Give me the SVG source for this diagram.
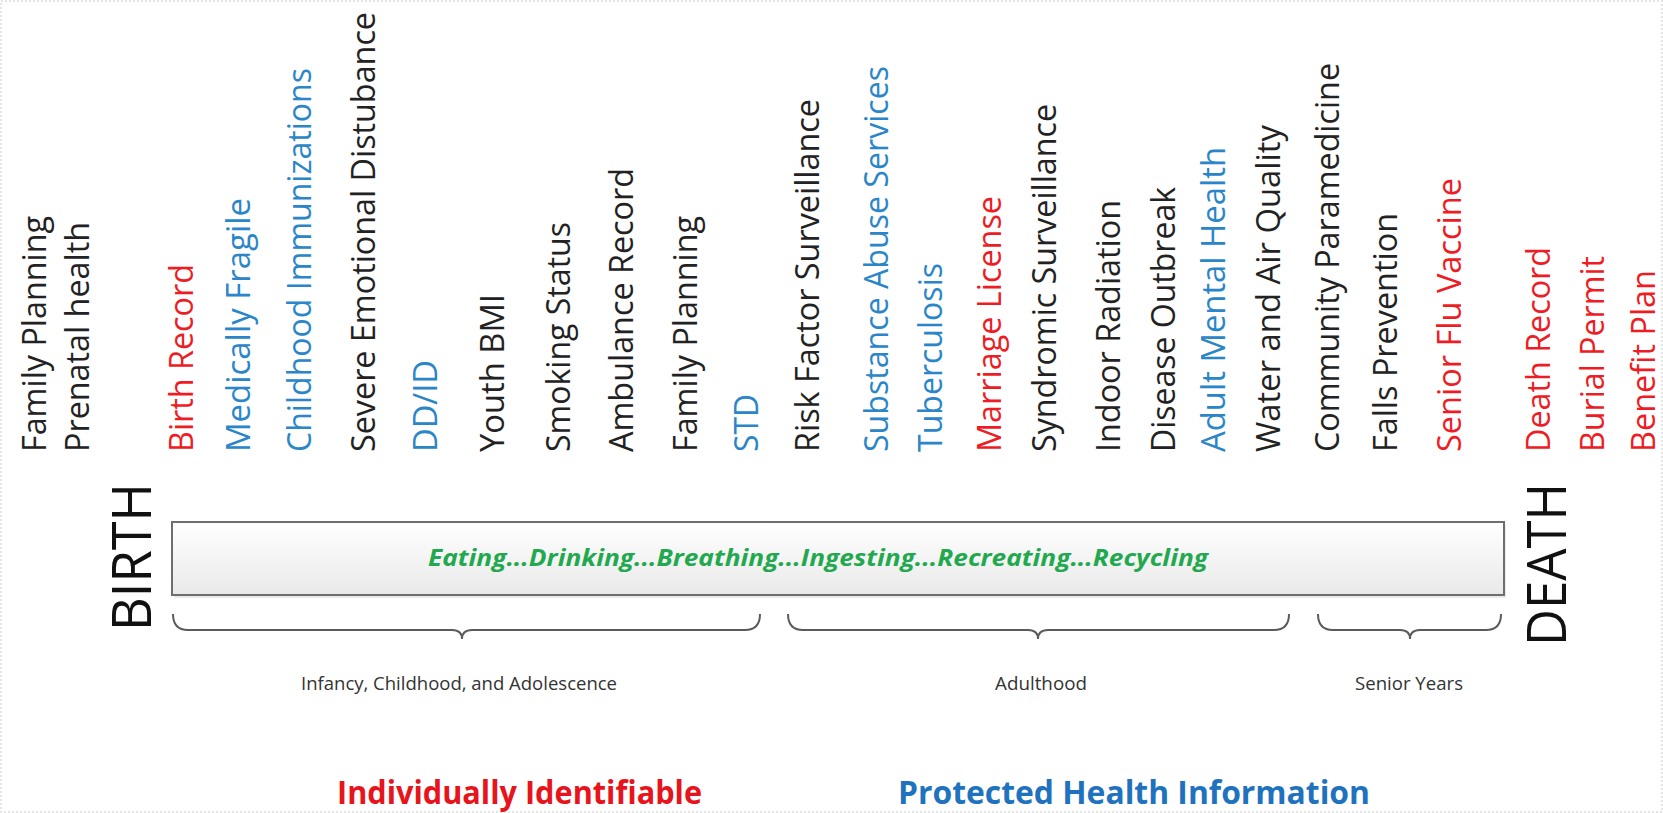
<svg xmlns="http://www.w3.org/2000/svg" width="1663" height="813" viewBox="0 0 1663 813">
<style>
.lbl{font-family:"Open Sans","Liberation Sans",sans-serif;font-size:32px;}
.k{fill:#222222;}
.r{fill:#ee1c24;}
.b{fill:#2a86c8;}
.big{font-family:"Open Sans","Liberation Sans",sans-serif;font-size:54px;fill:#111111;}
.phase{font-family:"Open Sans","Liberation Sans",sans-serif;font-size:18px;fill:#333333;text-anchor:middle;}
.brace{fill:none;stroke:#5a5a5a;stroke-width:2;}
.foot{font-family:"Open Sans","Liberation Sans",sans-serif;font-size:32px;font-weight:bold;}
</style>
<defs>
<linearGradient id="boxg" x1="0" y1="0" x2="0" y2="1">
<stop offset="0" stop-color="#ffffff"/>
<stop offset="1" stop-color="#e9e9e9"/>
</linearGradient>
</defs>
<rect x="1" y="1" width="1661" height="811" fill="#ffffff" stroke="#dcdcdc" stroke-width="1.5" stroke-dasharray="2,2"/>

<g id="labels">
<g id="l1"><text class="lbl k" transform="translate(46,452) rotate(-90)" textLength="236" lengthAdjust="spacingAndGlyphs">Family Planning</text></g>
<g id="l2"><text class="lbl k" transform="translate(89,452) rotate(-90)" textLength="230" lengthAdjust="spacingAndGlyphs">Prenatal health</text></g>
<g id="l3"><text class="lbl r" transform="translate(193,452) rotate(-90)" textLength="188" lengthAdjust="spacingAndGlyphs">Birth Record</text></g>
<g id="l4"><text class="lbl b" transform="translate(250,452) rotate(-90)" textLength="254" lengthAdjust="spacingAndGlyphs">Medically Fragile</text></g>
<g id="l5"><text class="lbl b" transform="translate(311,452) rotate(-90)" textLength="384" lengthAdjust="spacingAndGlyphs">Childhood Immunizations</text></g>
<g id="l6"><text class="lbl k" transform="translate(375,452) rotate(-90)" textLength="440" lengthAdjust="spacingAndGlyphs">Severe Emotional Distubance</text></g>
<g id="l7"><text class="lbl b" transform="translate(437,452) rotate(-90)" textLength="92" lengthAdjust="spacingAndGlyphs">DD/ID</text></g>
<g id="l8"><text class="lbl k" transform="translate(504,452) rotate(-90)" textLength="158" lengthAdjust="spacingAndGlyphs">Youth BMI</text></g>
<g id="l9"><text class="lbl k" transform="translate(570,452) rotate(-90)" textLength="230" lengthAdjust="spacingAndGlyphs">Smoking Status</text></g>
<g id="l10"><text class="lbl k" transform="translate(633,452) rotate(-90)" textLength="284" lengthAdjust="spacingAndGlyphs">Ambulance Record</text></g>
<g id="l11"><text class="lbl k" transform="translate(697,452) rotate(-90)" textLength="236" lengthAdjust="spacingAndGlyphs">Family Planning</text></g>
<g id="l12"><text class="lbl b" transform="translate(758,452) rotate(-90)" textLength="58" lengthAdjust="spacingAndGlyphs">STD</text></g>
<g id="l13"><text class="lbl k" transform="translate(819,452) rotate(-90)" textLength="353" lengthAdjust="spacingAndGlyphs">Risk Factor Surveillance</text></g>
<g id="l14"><text class="lbl b" transform="translate(888,452) rotate(-90)" textLength="386" lengthAdjust="spacingAndGlyphs">Substance Abuse Services</text></g>
<g id="l15"><text class="lbl b" transform="translate(942,452) rotate(-90)" textLength="189" lengthAdjust="spacingAndGlyphs">Tuberculosis</text></g>
<g id="l16"><text class="lbl r" transform="translate(1001,452) rotate(-90)" textLength="256" lengthAdjust="spacingAndGlyphs">Marriage License</text></g>
<g id="l17"><text class="lbl k" transform="translate(1056,452) rotate(-90)" textLength="348" lengthAdjust="spacingAndGlyphs">Syndromic Surveillance</text></g>
<g id="l18"><text class="lbl k" transform="translate(1120,452) rotate(-90)" textLength="252" lengthAdjust="spacingAndGlyphs">Indoor Radiation</text></g>
<g id="l19"><text class="lbl k" transform="translate(1175,452) rotate(-90)" textLength="265" lengthAdjust="spacingAndGlyphs">Disease Outbreak</text></g>
<g id="l20"><text class="lbl b" transform="translate(1225,452) rotate(-90)" textLength="305" lengthAdjust="spacingAndGlyphs">Adult Mental Health</text></g>
<g id="l21"><text class="lbl k" transform="translate(1280,452) rotate(-90)" textLength="327" lengthAdjust="spacingAndGlyphs">Water and Air Quality</text></g>
<g id="l22"><text class="lbl k" transform="translate(1339,452) rotate(-90)" textLength="389" lengthAdjust="spacingAndGlyphs">Community Paramedicine</text></g>
<g id="l23"><text class="lbl k" transform="translate(1397,452) rotate(-90)" textLength="239" lengthAdjust="spacingAndGlyphs">Falls Prevention</text></g>
<g id="l24"><text class="lbl r" transform="translate(1461,452) rotate(-90)" textLength="274" lengthAdjust="spacingAndGlyphs">Senior Flu Vaccine</text></g>
<g id="l25"><text class="lbl r" transform="translate(1550,452) rotate(-90)" textLength="205" lengthAdjust="spacingAndGlyphs">Death Record</text></g>
<g id="l26"><text class="lbl r" transform="translate(1604,452) rotate(-90)" textLength="196" lengthAdjust="spacingAndGlyphs">Burial Permit</text></g>
<g id="l27"><text class="lbl r" transform="translate(1655,452) rotate(-90)" textLength="182" lengthAdjust="spacingAndGlyphs">Benefit Plan</text></g>
</g>

<g id="birth"><text class="big" transform="translate(151,631) rotate(-90)" textLength="148" lengthAdjust="spacingAndGlyphs">BIRTH</text></g>
<g id="death"><text class="big" transform="translate(1566,646) rotate(-90)" textLength="163" lengthAdjust="spacingAndGlyphs">DEATH</text></g>

<g id="lifebar">
<rect x="174" y="525" width="1332" height="73" fill="#d8d8d8" opacity="0.5"/>
<rect x="172" y="522" width="1332" height="73" fill="url(#boxg)" stroke="#6e6e6e" stroke-width="2"/>
<text x="428" y="566" font-family="'Open Sans','Liberation Sans',sans-serif" font-size="23" font-weight="bold" font-style="italic" fill="#22a84f" textLength="780" lengthAdjust="spacingAndGlyphs">Eating...Drinking...Breathing...Ingesting...Recreating...Recycling</text>
</g>

<g id="connectors">
<path class="brace" d="M173,614 Q173,630 188,630 L452,630 Q462,630 462,639 Q462,630 472,630 L745,630 Q760,630 760,614"/>
<path class="brace" d="M788,614 Q788,630 803,630 L1028,630 Q1038,630 1038,639 Q1038,630 1048,630 L1274,630 Q1289,630 1289,614"/>
<path class="brace" d="M1318,614 Q1318,630 1333,630 L1400,630 Q1410,630 1410,639 Q1410,630 1420,630 L1486,630 Q1501,630 1501,614"/>
</g>

<g id="phase1"><text class="phase" x="459" y="690" textLength="316" lengthAdjust="spacingAndGlyphs">Infancy, Childhood, and Adolescence</text></g>
<g id="phase2"><text class="phase" x="1041" y="690" textLength="92" lengthAdjust="spacingAndGlyphs">Adulthood</text></g>
<g id="phase3"><text class="phase" x="1409" y="690" textLength="108" lengthAdjust="spacingAndGlyphs">Senior Years</text></g>

<g id="legend-red"><text class="foot" x="337" y="804" fill="#e8141c" textLength="365" lengthAdjust="spacingAndGlyphs">Individually Identifiable</text></g>
<g id="legend-blue"><text class="foot" x="898" y="804" fill="#1f72bd" textLength="472" lengthAdjust="spacingAndGlyphs">Protected Health Information</text></g>
</svg>
